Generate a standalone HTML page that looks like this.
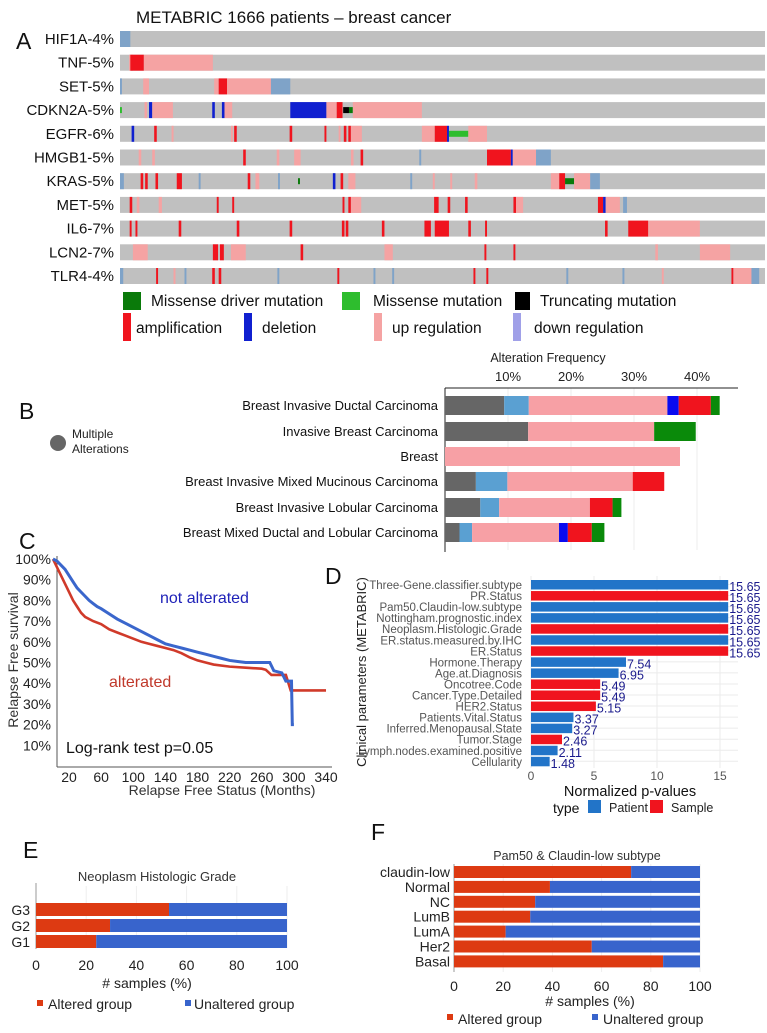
<!DOCTYPE html>
<html><head><meta charset="utf-8"><style>
html,body{margin:0;padding:0;background:#fff;}
svg{display:block;font-family:"Liberation Sans",sans-serif;}
</style></head><body>
<svg id="fig" width="767" height="1033" viewBox="0 0 767 1033" xmlns="http://www.w3.org/2000/svg"></svg>
<script>
// ---------- Panel A data ----------
const genes = ["HIF1A-4%","TNF-5%","SET-5%","CDKN2A-5%","EGFR-6%","HMGB1-5%","KRAS-5%","MET-5%","IL6-7%","LCN2-7%","TLR4-4%"];
const altHIF1A = [[0,1.6,"dn"]];
const altTNF = [[1.4,2,"up"],[1.6,3.7,"amp"],[3.7,14.4,"up"]];
const altSET = [[0,0.3,"dn"],[3.6,4.5,"up"],[14.6,15.3,"up"],[15.3,16.6,"amp"],[16.6,23.4,"up"],[23.4,26.4,"dn"]];
const altCDKN2A = [[0,0.3,"miss"],[3.8,4.2,"up"],[4.5,5,"del"],[5,8.2,"up"],[14.3,14.7,"del"],[15.8,16.2,"del"],[16.2,17.4,"up"],[26.4,32,"del"],[32,33.6,"up"],[33.6,34.5,"amp"],[34.6,35.5,"trunc"],[35.5,36.1,"drv"],[36.1,46.8,"up"]];
const altEGFR = [[1.8,2.2,"del"],[5.3,5.7,"amp"],[8,8.3,"up"],[17.2,17.5,"up"],[17.7,18.1,"amp"],[26.3,26.7,"amp"],[31.7,32,"amp"],[33.9,34.2,"up"],[34.7,35.1,"amp"],[35.4,35.8,"amp"],[35.8,37.5,"up"],[46.8,48.8,"up"],[48.8,50.7,"amp"],[50.7,51,"del"],[51,54,"miss"],[54,56.9,"up"]];
const altHMGB1 = [[2.9,3.3,"up"],[5,5.4,"up"],[19.1,19.5,"amp"],[24.3,24.7,"up"],[27,28,"up"],[35.8,36.2,"up"],[37.3,37.7,"amp"],[46.4,46.7,"dn"],[56.9,60.6,"amp"],[60.6,60.9,"del"],[60.9,64.5,"up"],[64.5,66.8,"dn"]];
const altKRAS = [[0,0.6,"dn"],[3.2,3.6,"amp"],[3.9,4.3,"amp"],[5.5,5.9,"amp"],[8.8,9.6,"amp"],[12.2,12.5,"dn"],[19.8,20.2,"amp"],[21,21.6,"up"],[24.5,24.8,"dn"],[27.6,27.9,"drv"],[33,33.4,"del"],[34.2,34.6,"amp"],[35.4,36.5,"up"],[45,45.3,"dn"],[48.5,48.8,"up"],[51.2,51.5,"up"],[55,55.4,"up"],[66.8,68.1,"up"],[68.1,69,"amp"],[69,70.4,"drv"],[70.4,72.9,"up"],[72.9,74.4,"dn"]];
const altMET = [[1.5,1.9,"amp"],[2.6,3,"up"],[6,6.5,"up"],[15,15.3,"amp"],[17.4,17.7,"amp"],[34.5,34.8,"amp"],[35.4,35.8,"amp"],[35.8,37.4,"up"],[48.7,49.4,"amp"],[50.8,51.2,"amp"],[53.5,53.9,"amp"],[61,61.4,"amp"],[61.4,62.5,"up"],[74.1,74.9,"amp"],[74.9,75.3,"del"],[75.3,77.5,"up"],[78,78.6,"dn"]];
const altIL6 = [[1.5,1.8,"amp"],[2.4,2.7,"amp"],[9.1,9.5,"amp"],[18.1,18.5,"amp"],[26.3,26.7,"amp"],[34.4,34.8,"amp"],[35,35.4,"amp"],[40.6,41,"amp"],[47.2,48.2,"amp"],[48.8,51,"amp"],[54,54.4,"amp"],[56.6,56.9,"amp"],[75.2,75.6,"amp"],[78.8,81.9,"amp"],[81.9,89.9,"up"]];
const altLCN2 = [[2,4.3,"up"],[14.4,15.2,"amp"],[15.5,16.1,"amp"],[17.2,19.5,"up"],[28,28.4,"amp"],[41,42.3,"up"],[56.5,56.8,"amp"],[61,61.3,"amp"],[83,83.4,"up"],[89.9,94.6,"up"]];
const altTLR4 = [[0,0.5,"dn"],[5.6,5.9,"amp"],[8.3,8.6,"up"],[10,10.3,"dn"],[14.3,14.7,"amp"],[15.3,15.7,"amp"],[24.4,24.7,"dn"],[33.7,34,"amp"],[39.3,39.6,"dn"],[42.2,42.5,"dn"],[54.8,55.1,"amp"],[56.8,57.1,"amp"],[69.2,69.5,"dn"],[77.9,78.2,"dn"],[84,84.3,"up"],[94.8,95.1,"amp"],[95.1,97.9,"up"],[97.9,99.1,"dn"]];
const geneAlts = [altHIF1A,altTNF,altSET,altCDKN2A,altEGFR,altHMGB1,altKRAS,altMET,altIL6,altLCN2,altTLR4];

// ---------- Panel B data ----------
const cancerTypes = ["Breast Invasive Ductal Carcinoma","Invasive Breast Carcinoma","Breast","Breast Invasive Mixed Mucinous Carcinoma","Breast Invasive Lobular Carcinoma","Breast Mixed Ductal and Lobular Carcinoma"];
const bMultiple = [9.4,13.2,0,4.9,5.6,2.3];
const bDownReg = [3.9,0,0,5.0,3.0,2.0];
const bUpReg = [22.0,20.0,37.3,19.9,14.4,13.8];
const bDeletion = [1.8,0,0,0,0,1.4];
const bAmplification = [5.1,0,0,5.0,3.6,3.8];
const bMutation = [1.4,6.6,0,0,1.4,2.0];
const bTicks = [10,20,30,40];

// ---------- Panel C data ----------
const kmMonthsNA = [0,5,10,15,20,25,30,35,40,45,50,55,60,70,80,90,100,110,120,130,140,150,160,170,180,190,200,210,220,230,240,270,275,285,290,297,298,300];
const kmSurvNA   = [1,0.99,0.97,0.95,0.92,0.89,0.86,0.84,0.82,0.80,0.785,0.77,0.76,0.735,0.71,0.69,0.67,0.65,0.63,0.61,0.59,0.58,0.57,0.56,0.55,0.54,0.53,0.52,0.51,0.505,0.50,0.50,0.46,0.45,0.41,0.41,0.20,0.20];
const kmMonthsA  = [0,5,10,15,20,25,30,35,40,50,60,70,80,90,100,110,120,130,140,150,160,170,180,190,200,220,240,260,265,272,290,296,340];
const kmSurvA    = [1,0.96,0.92,0.88,0.84,0.80,0.77,0.74,0.72,0.70,0.685,0.66,0.645,0.63,0.615,0.60,0.59,0.58,0.57,0.56,0.545,0.525,0.51,0.50,0.49,0.48,0.475,0.47,0.465,0.44,0.44,0.365,0.365];
const kmXTicks = [20,60,100,140,180,220,260,300,340];
const kmYTicks = [10,20,30,40,50,60,70,80,90,100];

// ---------- Panel D data ----------
const dParams = ["Three-Gene.classifier.subtype","PR.Status","Pam50.Claudin-low.subtype","Nottingham.prognostic.index","Neoplasm.Histologic.Grade","ER.status.measured.by.IHC","ER.Status","Hormone.Therapy","Age.at.Diagnosis","Oncotree.Code","Cancer.Type.Detailed","HER2.Status","Patients.Vital.Status","Inferred.Menopausal.State","Tumor.Stage","Lymph.nodes.examined.positive","Cellularity"];
const dValues = [15.65,15.65,15.65,15.65,15.65,15.65,15.65,7.54,6.95,5.49,5.49,5.15,3.37,3.27,2.46,2.11,1.48];
const dTypes = ["P","S","P","P","S","P","S","P","P","S","S","S","P","P","S","P","P"];
const dTicks = [0,5,10,15];

// ---------- Panel E/F data ----------
const eGrades = ["G3","G2","G1"];
const eAltered = [53,29.5,24];
const fSubtypes = ["claudin-low","Normal","NC","LumB","LumA","Her2","Basal"];
const fAltered = [72,39,33,31,21,56,85];
const pctTicks = [0,20,40,60,80,100];

// ---------- helpers ----------
const NS="http://www.w3.org/2000/svg";
const svg=document.getElementById("fig");
function el(tag,attrs,parent,txt){const e=document.createElementNS(NS,tag);for(const k in attrs)e.setAttribute(k,attrs[k]);if(txt!==undefined)e.textContent=txt;(parent||svg).appendChild(e);return e;}
function grp(parent){return el("g",{},parent);}

const COL={amp:"#f0141e",up:"#f5a3a3",dn:"#7fa3c8",del:"#1020d0",miss:"#2ebd2e",drv:"#0a7a0a",trunc:"#000"};

// ---------- Panel A ----------
let t=el("text",{x:136,y:23,"font-size":17,fill:"#111"},svg,"METABRIC 1666 patients –  breast cancer");

t=el("text",{x:16,y:49,"font-size":23,fill:"#111"},svg,"A");

const trackX0=120,trackW=645;
const ax=p=>trackX0+p*trackW/100;
genes.forEach((g,i)=>{
  const y=31+i*23.7,h=16;
  const row=grp();
  
  
  const lab=el("text",{x:114,y:y+13,"font-size":15,"text-anchor":"end",fill:"#111"},row,g);
  
  
  const bg=el("rect",{x:trackX0,y:y,width:trackW,height:h,fill:"#c0c0c0"},row);
  
  
  geneAlts[i].forEach(s=>{
    let yy=y,hh=h;
    if(s[2]==="miss"||s[2]==="drv"||s[2]==="trunc"){yy=y+5;hh=6;}
    const r=el("rect",{x:ax(s[0]),y:yy,width:Math.max(1.2,ax(s[1])-ax(s[0])),height:hh,fill:COL[s[2]]},row);
    
    
  });
});
// legend A
const legA=[[123,292,18,18,"#0a7a0a","Missense driver mutation",151,306],[342,292,18,18,"#2ebd2e","Missense mutation",373,306],[515,292,15,18,"#000","Truncating mutation",540,306],
[123,313,8,28,"#f0141e","amplification",136,333],[244,313,8,28,"#1020d0","deletion",262,333],[374,313,8,28,"#f5a3a3","up regulation",392,333],[513,313,8,28,"#a0a0e8","down regulation",534,333]];
legA.forEach(l=>{
  const g=grp();
  
  
  const r=el("rect",{x:l[0],y:l[1],width:l[2],height:l[3],fill:l[4]},g);
  
  
  const tx=el("text",{x:l[6],y:l[7],"font-size":15.5,fill:"#111"},g,l[5]);
  
  
});

// ---------- Panel B ----------
t=el("text",{x:19,y:419,"font-size":23,fill:"#111"},svg,"B");

const bx=p=>445+p*6.3;
t=el("text",{x:548,y:362,"font-size":12.5,"text-anchor":"middle",fill:"#222"},svg,"Alteration Frequency");

bTicks.forEach(v=>{
  const gl=el("line",{x1:bx(v),x2:bx(v),y1:388,y2:550,stroke:"#eee"});
  
  const tl=el("text",{x:bx(v),y:381,"font-size":13,"text-anchor":"middle",fill:"#222"},svg,v+"%");
  
});
let ln=el("line",{x1:445,x2:738,y1:388,y2:388,stroke:"#222"});

ln=el("line",{x1:445,x2:445,y1:388,y2:552,stroke:"#222"});

const bRowsY=[396,422,447,472,498,523];
const bSeries=[[bMultiple,"#666"],[bDownReg,"#5aa0d2"],[bUpReg,"#f7a0a5"],[bDeletion,"#0a0af0"],[bAmplification,"#f0141e"],[bMutation,"#0a8a0a"]];
cancerTypes.forEach((c,i)=>{
  const y=bRowsY[i];
  const lab=el("text",{x:438,y:y+14,"font-size":13,"text-anchor":"end",fill:"#111"},svg,c);
  
  let acc=0;
  bSeries.forEach(s=>{
    const v=s[0][i];
    if(v>0){
      const r=el("rect",{x:bx(acc),y:y,width:v*6.3,height:19,fill:s[1]});
      
    }
    acc+=v;
  });
});
let cc=el("circle",{cx:58,cy:443,r:8,fill:"#666"});

t=el("text",{x:72,y:438,"font-size":12,fill:"#222"},svg,"Multiple");

t=el("text",{x:72,y:453,"font-size":12,fill:"#222"},svg,"Alterations");


// ---------- Panel C ----------
t=el("text",{x:19,y:549,"font-size":23,fill:"#111"},svg,"C");

const cx=m=>53+m*0.803, cy=s=>766-s*207;
ln=el("line",{x1:57,x2:57,y1:556,y2:767,stroke:"#555"});

ln=el("line",{x1:57,x2:332,y1:767,y2:767,stroke:"#555"});

kmYTicks.forEach(v=>{
  const tl=el("text",{x:51,y:cy(v/100)+5,"font-size":14,"text-anchor":"end",fill:"#222"},svg,v+"%");
  
});
kmXTicks.forEach(v=>{
  const tl=el("text",{x:cx(v),y:782,"font-size":14,"text-anchor":"middle",fill:"#222"},svg,v);
  
});
function linePath(ms,ss){let d="M"+cx(ms[0])+","+cy(ss[0]);for(let i=1;i<ms.length;i++){d+=" L"+cx(ms[i])+","+cy(ss[i]);}return d;}
let p=el("path",{d:linePath(kmMonthsA,kmSurvA),fill:"none",stroke:"#d03a2a","stroke-width":2.6});

p=el("path",{d:linePath(kmMonthsNA,kmSurvNA),fill:"none",stroke:"#3a66cc","stroke-width":3});

t=el("text",{x:160,y:603,"font-size":16,fill:"#1f22b8"},svg,"not alterated");

t=el("text",{x:109,y:687,"font-size":16,fill:"#c0392b"},svg,"alterated");

t=el("text",{x:66,y:753,"font-size":16,fill:"#111"},svg,"Log-rank test p=0.05");

t=el("text",{x:222,y:795,"font-size":14,"text-anchor":"middle",fill:"#333"},svg,"Relapse Free Status (Months)");

t=el("text",{x:0,y:0,"font-size":14,"text-anchor":"middle",fill:"#333",transform:"translate(18,660) rotate(-90)"},svg,"Relapse Free survival");


// ---------- Panel D ----------
t=el("text",{x:325,y:584,"font-size":23,fill:"#111"},svg,"D");

const dx=v=>531+v*12.6;
dTicks.forEach(v=>{
  const gl=el("line",{x1:dx(v),x2:dx(v),y1:576,y2:768,stroke:"#ebebeb"});
  
  const tl=el("text",{x:dx(v),y:780,"font-size":12,"text-anchor":"middle",fill:"#555"},svg,v);
  
});
dParams.forEach((n,i)=>{
  const y=580+i*11.05;
  const gl=el("line",{x1:531,x2:738,y1:y+4.5,y2:y+4.5,stroke:"#ebebeb"});
  
  const r=el("rect",{x:531,y:y,width:dValues[i]*12.6,height:9.5,fill:dTypes[i]==="P"?"#2274c8":"#f0141e"});
  
  const lab=el("text",{x:522,y:y+9,"font-size":11.5,"text-anchor":"end",fill:"#555"},svg,n);
  
  const vl=el("text",{x:dx(dValues[i])+1,y:y+11,"font-size":12.5,fill:"#1a1a8c"},svg,dValues[i].toFixed(2));
  
});
t=el("text",{x:630,y:796,"font-size":14.5,"text-anchor":"middle",fill:"#111"},svg,"Normalized p-values");

t=el("text",{x:0,y:0,"font-size":13,"text-anchor":"middle",fill:"#222",transform:"translate(366,672) rotate(-90)"},svg,"Clinical parameters (METABRIC)");

t=el("text",{x:553,y:813,"font-size":14,fill:"#111"},svg,"type");

[[588,"#2274c8","Patient",609],[650,"#f0141e","Sample",671]].forEach(l=>{
  const r=el("rect",{x:l[0],y:800,width:13,height:13,fill:l[1]});
  
  const tx=el("text",{x:l[3],y:812,"font-size":12.5,fill:"#222"},svg,l[2]);
  
});

// ---------- Panel E ----------
const RED="#dd3a12",BLUE="#3864cc";
t=el("text",{x:23,y:858,"font-size":23,fill:"#111"},svg,"E");

const ex=v=>36+v*2.51;
t=el("text",{x:157,y:881,"font-size":13,"text-anchor":"middle",fill:"#333"},svg,"Neoplasm Histologic Grade");

pctTicks.forEach(v=>{
  const gl=el("line",{x1:ex(v),x2:ex(v),y1:886,y2:948,stroke:"#eee"});
  
  const tl=el("text",{x:ex(v),y:970,"font-size":14,"text-anchor":"middle",fill:"#222"},svg,v);
  
});
ln=el("line",{x1:36,x2:36,y1:883,y2:949,stroke:"#999"});

eGrades.forEach((g,i)=>{
  const y=903+i*16;
  const r1=el("rect",{x:ex(0),y:y,width:eAltered[i]*2.51,height:13,fill:RED});
  
  const r2=el("rect",{x:ex(eAltered[i]),y:y,width:(100-eAltered[i])*2.51,height:13,fill:BLUE});
  
  const lab=el("text",{x:30,y:y+12,"font-size":14,"text-anchor":"end",fill:"#222"},svg,g);
  
});
t=el("text",{x:147,y:988,"font-size":14,"text-anchor":"middle",fill:"#222"},svg,"# samples (%)");

[[37,RED,"Altered group",48],[185,BLUE,"Unaltered group",194]].forEach(l=>{
  const r=el("rect",{x:l[0],y:1000,width:6,height:6,fill:l[1]});
  
  const tx=el("text",{x:l[3],y:1009,"font-size":14,fill:"#222"},svg,l[2]);
  
});

// ---------- Panel F ----------
t=el("text",{x:371,y:840,"font-size":23,fill:"#111"},svg,"F");

const fx=v=>454+v*2.46;
t=el("text",{x:577,y:860,"font-size":12.5,"text-anchor":"middle",fill:"#333"},svg,"Pam50 & Claudin-low subtype");

pctTicks.forEach(v=>{
  const gl=el("line",{x1:fx(v),x2:fx(v),y1:864,y2:972,stroke:"#eee"});
  
  const tl=el("text",{x:fx(v),y:991,"font-size":14,"text-anchor":"middle",fill:"#222"},svg,v);
  
});
ln=el("line",{x1:454,x2:454,y1:864,y2:972,stroke:"#999"});

fSubtypes.forEach((g,i)=>{
  const y=866+i*14.9;
  const r1=el("rect",{x:fx(0),y:y,width:fAltered[i]*2.46,height:12,fill:RED});
  
  const r2=el("rect",{x:fx(fAltered[i]),y:y,width:(100-fAltered[i])*2.46,height:12,fill:BLUE});
  
  const lab=el("text",{x:450,y:y+11,"font-size":14,"text-anchor":"end",fill:"#222"},svg,g);
  
});
t=el("text",{x:590,y:1006,"font-size":14,"text-anchor":"middle",fill:"#222"},svg,"# samples (%)");

[[447,RED,"Altered group",458],[592,BLUE,"Unaltered group",603]].forEach(l=>{
  const r=el("rect",{x:l[0],y:1014,width:6,height:6,fill:l[1]});
  
  const tx=el("text",{x:l[3],y:1024,"font-size":14,fill:"#222"},svg,l[2]);
  
});
</script>
</body></html>
